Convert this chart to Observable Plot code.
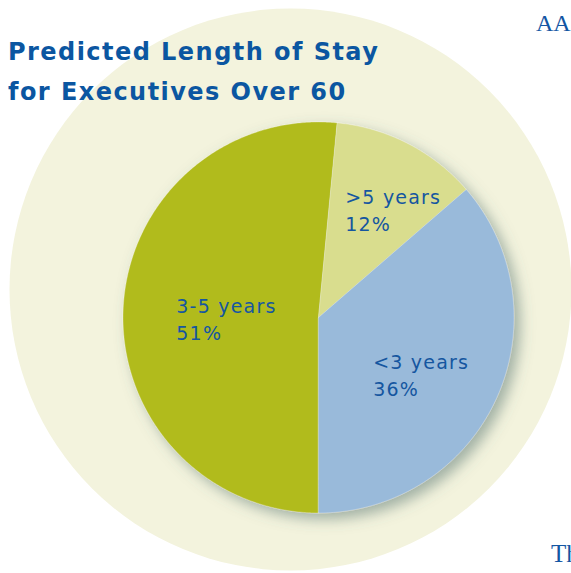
<!DOCTYPE html>
<html>
<head>
<meta charset="utf-8">
<script src="https://cdn.jsdelivr.net/npm/d3@7"></script>
<script src="https://cdn.jsdelivr.net/npm/@observablehq/plot@0.6"></script>
<style>
  html, body { margin: 0; padding: 0; background: #ffffff; }
  body { width: 571px; height: 573px; overflow: hidden; position: relative; }
  #chart { position: absolute; left: 0; top: 0; }
  #chart svg text { letter-spacing: 1.2px; }
  .title {
    position: absolute; left: 8px; top: 32px;
    font-family: "DejaVu Sans", sans-serif; font-weight: bold;
    font-size: 24px; line-height: 40px; letter-spacing: 1.45px;
    color: #0b56a1; white-space: nowrap;
  }
  .edge {
    position: absolute; font-family: "Liberation Serif", serif;
    color: #1456a3; white-space: nowrap;
  }
</style>
</head>
<body>
<div id="chart"></div>
<div class="title">Predicted Length of Stay<br>for Executives Over 60</div>
<div class="edge" style="left:536px; top:10px; font-size:24px;">AA</div>
<div class="edge" style="left:551px; top:540px; font-size:25px;">Th</div>
<script>
// ---- data ----
const categories = ["3-5 years", ">5 years", "<3 years"];
const shares = [51, 12, 36];
const sliceColors = ["#b1bb1f", "#d9dd8e", "#99bada"];

// ---- derived geometry (unit circle, y up) ----
const arcs = d3.pie().sort(null).startAngle(Math.PI).endAngle(3 * Math.PI)(shares);
const slicePoints = [];
arcs.forEach((a, i) => {
  slicePoints.push({cat: categories[i], x: 0, y: 0});
  const n = Math.max(2, Math.ceil((a.endAngle - a.startAngle) / (Math.PI / 360)));
  for (let k = 0; k <= n; k++) {
    const t = a.startAngle + (a.endAngle - a.startAngle) * k / n;
    slicePoints.push({cat: categories[i], x: Math.sin(t), y: Math.cos(t)});
  }
});

const R = 195.5; // pixel radius of the pie
const labelNudge = {"3-5 years": [-25, 5.5], ">5 years": [-27, -4.3], "<3 years": [-52, 8]};
const labels = arcs.map((a, i) => {
  const m = (a.startAngle + a.endAngle) / 2;
  const [nx, ny] = labelNudge[categories[i]];
  return {
    cat: categories[i],
    x: 0.6 * Math.sin(m) + nx / R,
    y: 0.6 * Math.cos(m) - ny / R,
    text: `${categories[i]}\n${shares[i]}%`
  };
});

const backdrop = [{x: -28 / R, y: 28 / R}];

const chart = Plot.plot({
  width: 571,
  height: 573,
  marginLeft: 122.5,
  marginRight: 57.5,
  marginTop: 121.5,
  marginBottom: 60.5,
  x: {domain: [-1, 1], axis: null},
  y: {domain: [-1, 1], axis: null},
  color: {domain: categories, range: sliceColors},
  style: {background: "transparent", overflow: "visible"},
  marks: [
    Plot.dot(backdrop, {x: "x", y: "y", r: 281, fill: "#f3f3dd", stroke: "none"}),
    Plot.line(slicePoints, {
      x: "x", y: "y", z: "cat", fill: "cat",
      stroke: "#ffffff", strokeOpacity: 0.45, strokeWidth: 0.6,
      curve: "linear-closed"
    }),
    Plot.text(labels, {
      x: "x", y: "y", text: "text",
      textAnchor: "start", lineAnchor: "middle", lineHeight: 1.42,
      fontSize: 19, fontFamily: "DejaVu Sans, sans-serif", fill: "#1556a0"
    })
  ]
});
document.getElementById("chart").appendChild(chart);

// soft drop shadow under the pie
const svg = d3.select(chart.tagName === "svg" ? chart : chart.querySelector("svg"));
svg.insert("defs", ":first-child").html(
  '<filter id="pieShadow" x="-20%" y="-20%" width="145%" height="145%">' +
  '<feDropShadow dx="6" dy="6" stdDeviation="7" flood-color="#4f6e6a" flood-opacity="0.5"/></filter>'
);
svg.selectAll("g[aria-label='line']").attr("filter", "url(#pieShadow)");
</script>
</body>
</html>
